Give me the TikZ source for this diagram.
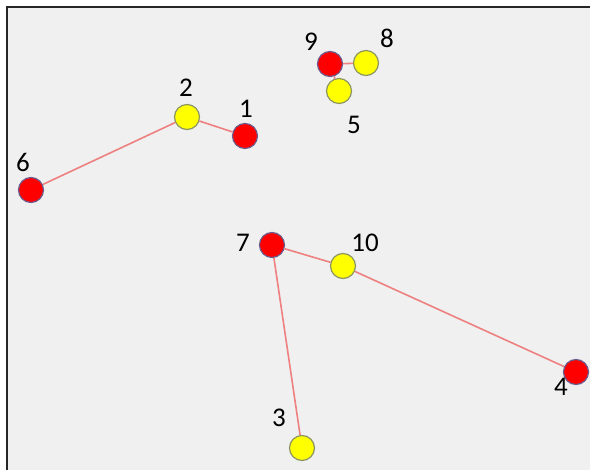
\documentclass[tikz,border=0pt]{standalone}
\usepackage{fontspec}
\setmainfont{Carlito}
\definecolor{bg}{HTML}{F0F0F0}
\definecolor{edgec}{HTML}{EE8080}
\definecolor{redfill}{HTML}{FF0000}
\definecolor{redline}{HTML}{6E5A8C}
\definecolor{yelfill}{HTML}{FFFF00}
\definecolor{yelline}{HTML}{8C9660}
\begin{document}
\begin{tikzpicture}[x=1pt,y=-1pt,
  rednode/.style={circle,fill=redfill,draw=redline,line width=1.2pt,minimum size=25pt,inner sep=0pt},
  yelnode/.style={circle,fill=yelfill,draw=yelline,line width=1.2pt,minimum size=25pt,inner sep=0pt},
  lbl/.style={font=\fontsize{27}{27}\selectfont,inner sep=0pt,text=black},
  link/.style={draw=edgec,line width=1.6pt}]
\useasboundingbox (0,0) rectangle (590,470);
\fill[white] (0,0) rectangle (590,470);
\fill[bg] (7,7) rectangle (590,470);
\draw[line width=2pt,black!85] (7,470) -- (7,7) -- (590,7);
\node[rednode] (n9) at (330,64) {};
\node[yelnode] (n8) at (366,63) {};
\node[yelnode] (n5) at (339,91) {};
\node[yelnode] (n2) at (187,117) {};
\node[rednode] (n1) at (245,136) {};
\node[rednode] (n6) at (31,190) {};
\node[rednode] (n7) at (272,245) {};
\node[yelnode] (n10) at (343,266) {};
\node[rednode] (n4) at (576,372) {};
\node[yelnode] (n3) at (302,448) {};
\node[lbl] (l9) at (311,42) {9};
\node[lbl] (l8) at (387,38) {8};
\node[lbl] (l5) at (354,125) {5};
\node[lbl] (l2) at (186,88) {2};
\node[lbl] (l1) at (246,109) {1};
\node[lbl] (l6) at (23,162) {6};
\node[lbl] (l7) at (243,243) {7};
\node[lbl] (l10) at (365,243) {10};
\node[lbl] (l4) at (561,387) {4};
\node[lbl] (l3) at (279,418) {3};
\draw[link] (n6) -- (n2);
\draw[link] (n2) -- (n1);
\draw[link] (n9) -- (n8);
\draw[link] (n9) -- (n5);
\draw[link] (n7) -- (n10);
\draw[link] (n10) -- (n4);
\draw[link] (n7) -- (n3);
\end{tikzpicture}
\end{document}
